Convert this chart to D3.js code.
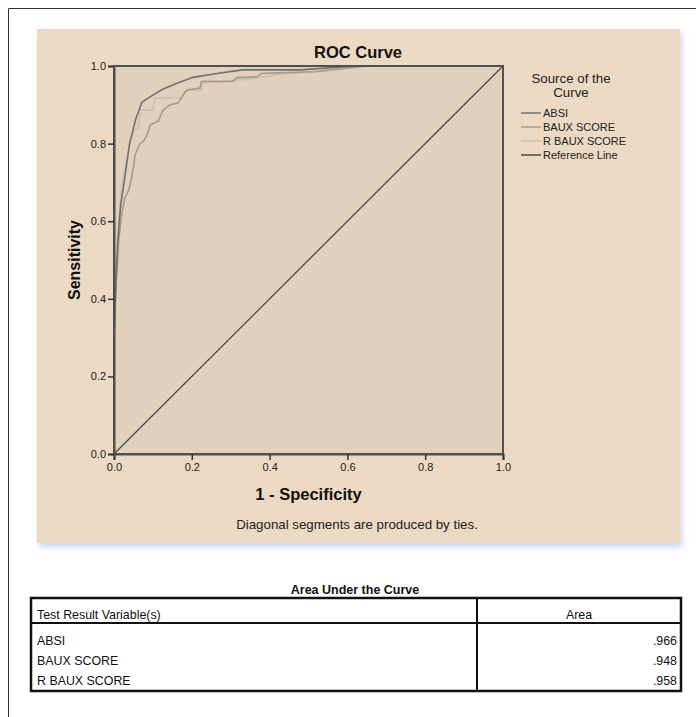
<!DOCTYPE html>
<html><head><meta charset="utf-8">
<script src="https://cdn.jsdelivr.net/npm/d3@7"></script>
<style>
html,body{margin:0;padding:0;background:#fff;}
svg{display:block;font-family:"Liberation Sans",Arial,sans-serif;}
</style></head>
<body>
<svg id="c" width="696" height="717"></svg>
<script>
// ---- data ----
const seriesNames = ["ABSI", "BAUX SCORE", "R BAUX SCORE"];
const absi = [[0,0],[0,0.28],[0.004,0.42],[0.01,0.55],[0.017,0.64],[0.026,0.70],[0.04,0.80],[0.055,0.86],[0.072,0.907],[0.1,0.925],[0.125,0.94],[0.16,0.955],[0.2,0.97],[0.26,0.98],[0.33,0.99],[0.48,0.99],[0.62,1],[1,1]];
const baux = [[0,0],[0,0.3],[0.006,0.45],[0.012,0.55],[0.02,0.62],[0.028,0.66],[0.038,0.68],[0.045,0.71],[0.05,0.74],[0.054,0.77],[0.06,0.785],[0.067,0.80],[0.075,0.805],[0.084,0.82],[0.093,0.848],[0.114,0.858],[0.126,0.886],[0.144,0.90],[0.165,0.905],[0.187,0.938],[0.221,0.943],[0.225,0.96],[0.306,0.961],[0.315,0.97],[0.367,0.972],[0.38,0.981],[0.52,0.985],[0.6,0.995],[0.65,1],[1,1]];
const rbaux = [[0,0],[0,0.3],[0.005,0.47],[0.012,0.6],[0.02,0.69],[0.03,0.75],[0.04,0.8],[0.053,0.835],[0.062,0.84],[0.069,0.887],[0.1,0.887],[0.105,0.918],[0.169,0.918],[0.19,0.938],[0.224,0.938],[0.229,0.957],[0.3,0.96],[0.307,0.962],[0.375,0.97],[0.434,0.98],[0.6,0.994],[0.666,1],[1,1]];
const refLine = [[0,0],[1,1]];
const ticks = [0, 0.2, 0.4, 0.6, 0.8, 1.0];
const aucNames = ["ABSI", "BAUX SCORE", "R BAUX SCORE"];
const aucValues = [".966", ".948", ".958"];

// ---- drawing ----
const svg = d3.select("#c");
const defs = svg.append("defs");
const f = defs.append("filter").attr("id","sh").attr("x","-5%").attr("y","-5%").attr("width","110%").attr("height","115%");
f.append("feDropShadow").attr("dx",2).attr("dy",4).attr("stdDeviation",3).attr("flood-color","#9fbde6").attr("flood-opacity",0.6);

// page border
svg.append("path").attr("d","M8.5,717 L8.5,8.5 L696,8.5").attr("fill","none").attr("stroke","#333").attr("stroke-width",1);

// panel
svg.append("rect").attr("x",37).attr("y",29).attr("width",643).attr("height",514).attr("fill","#ebd9c3").attr("filter","url(#sh)");

const x = d3.scaleLinear().domain([0,1]).range([114,503]);
const y = d3.scaleLinear().domain([0,1]).range([454,66]);

svg.append("rect").attr("x",x(0)).attr("y",y(1)).attr("width",x(1)-x(0)).attr("height",y(0)-y(1)).attr("fill","#e1d0bb");

const line = d3.line().x(d=>x(d[0])).y(d=>y(d[1]));
const colors = ["#717171","#a39b8f","#cbbfae"];
const data = [absi, baux, rbaux];

svg.append("path").datum(refLine).attr("d",line).attr("fill","none").attr("stroke","#4a4a4a").attr("stroke-width",1.3);
[2,1,0].forEach(i=>{
  svg.append("path").datum(data[i]).attr("d",line).attr("fill","none").attr("stroke",colors[i]).attr("stroke-width",1.6).attr("stroke-linejoin","round");
});

// frame
svg.append("rect").attr("x",x(0)).attr("y",y(1)).attr("width",x(1)-x(0)).attr("height",y(0)-y(1)).attr("fill","none").attr("stroke","#505050").attr("stroke-width",2);

const fmt = d3.format(".1f");
const gx = svg.append("g").attr("transform",`translate(0,${y(0)})`)
  .call(d3.axisBottom(x).tickValues(ticks).tickFormat(fmt).tickSize(6).tickPadding(3));
const gy = svg.append("g").attr("transform",`translate(${x(0)},0)`)
  .call(d3.axisLeft(y).tickValues(ticks).tickFormat(fmt).tickSize(6).tickPadding(2));
[gx,gy].forEach(g=>{
  g.select(".domain").attr("stroke","#505050").attr("stroke-width",2);
  g.selectAll(".tick line").attr("stroke","#333").attr("stroke-width",1.5);
  g.selectAll(".tick text").attr("fill","#222").attr("font-size",11).attr("font-family","'Liberation Sans Narrow','Liberation Sans',Arial,sans-serif");
});

// titles
svg.append("text").attr("x",358).attr("y",58).attr("text-anchor","middle").attr("font-size",16.5).attr("font-weight","bold").attr("fill","#111").text("ROC Curve");
svg.append("text").attr("x",(x(0)+x(1))/2).attr("y",500).attr("text-anchor","middle").attr("font-size",16.5).attr("font-weight","bold").attr("fill","#111").text("1 - Specificity");
svg.append("text").attr("transform",`translate(80,${(y(0)+y(1))/2}) rotate(-90)`).attr("text-anchor","middle").attr("font-size",16).attr("font-weight","bold").attr("fill","#111").text("Sensitivity");
svg.append("text").attr("x",357).attr("y",529).attr("text-anchor","middle").attr("font-size",13.3).attr("fill","#222").text("Diagonal segments are produced by ties.");

// legend
svg.append("text").attr("x",571).attr("y",83).attr("text-anchor","middle").attr("font-size",13.3).attr("fill","#222").text("Source of the");
svg.append("text").attr("x",571).attr("y",97).attr("text-anchor","middle").attr("font-size",13.3).attr("fill","#222").text("Curve");
const legNames = seriesNames.concat(["Reference Line"]);
const legColors = colors.concat(["#4a4a4a"]);
legNames.forEach((n,i)=>{
  const yy = 113 + i*14;
  svg.append("line").attr("x1",521).attr("x2",541).attr("y1",yy).attr("y2",yy).attr("stroke",legColors[i]).attr("stroke-width",1.5);
  svg.append("text").attr("x",543).attr("y",yy+4).attr("font-size",11).attr("fill","#222").text(n);
});

// table
svg.append("text").attr("x",355).attr("y",594).attr("text-anchor","middle").attr("font-size",12.5).attr("font-weight","bold").attr("fill","#111").text("Area Under the Curve");
const tL=31, tR=681, tT=598, tH=623, tB=691, tC=477;
svg.append("rect").attr("x",tL).attr("y",tT).attr("width",tR-tL).attr("height",tB-tT).attr("fill","#fff").attr("stroke","#111").attr("stroke-width",2.5);
svg.append("line").attr("x1",tL).attr("x2",tR).attr("y1",tH).attr("y2",tH).attr("stroke","#111").attr("stroke-width",2);
svg.append("line").attr("x1",tC).attr("x2",tC).attr("y1",tT).attr("y2",tB).attr("stroke","#111").attr("stroke-width",2);
svg.append("text").attr("x",37).attr("y",619).attr("font-size",12.4).attr("fill","#111").text("Test Result Variable(s)");
svg.append("text").attr("x",579).attr("y",619).attr("text-anchor","middle").attr("font-size",12.4).attr("fill","#111").text("Area");
aucNames.forEach((n,i)=>{
  const yy = 645 + i*20;
  svg.append("text").attr("x",37).attr("y",yy).attr("font-size",12.4).attr("fill","#111").text(n);
  svg.append("text").attr("x",677).attr("y",yy).attr("text-anchor","end").attr("font-size",12.4).attr("fill","#111").text(aucValues[i]);
});
</script>
</body></html>
